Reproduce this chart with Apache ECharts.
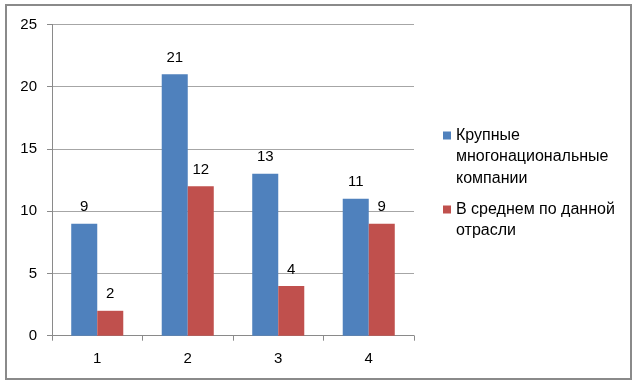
<!DOCTYPE html>
<html>
<head>
<meta charset="utf-8">
<script src="https://cdn.jsdelivr.net/npm/echarts@6/dist/echarts.min.js"></script>
<style>html,body{margin:0;padding:0;background:#fff;}#c{width:638px;height:386px;}</style>
</head>
<body>
<div id="c"></div>
<script>
const categories = ['1', '2', '3', '4'];
const seriesNames = ['Крупные многонациональные компании', 'В среднем по данной отрасли'];
const legendLines = [['Крупные', 'многонациональные', 'компании'], ['В среднем по данной', 'отрасли']];
const largeCompanies = [9, 21, 13, 11];
const industryAverage = [2, 12, 4, 9];
const yTicks = [0, 5, 10, 15, 20, 25];

const FONT = 'Liberation Sans';
const LH = 21.5;
const chart = echarts.init(document.getElementById('c'), null, {renderer: 'canvas'});

// Icon is centred on the text block; prepend empty lines so it sits beside the first line.
function legendFor(i, iconTop) {
  const lines = legendLines[i];
  const n = lines.length;
  const text = '\n'.repeat(n - 1) + lines.join('\n');
  const total = (2 * n - 1) * LH;
  return {
    show: true,
    orient: 'vertical',
    left: 443,
    top: iconTop + 4 - total / 2,
    padding: 0,
    itemWidth: 8,
    itemHeight: 8,
    icon: 'rect',
    data: [seriesNames[i]],
    formatter: function () { return text; },
    textStyle: {fontFamily: FONT, fontSize: 16, color: '#000', lineHeight: LH}
  };
}

chart.setOption({
  animation: false,
  textStyle: {fontFamily: FONT},
  graphic: [{
    type: 'rect', shape: {x: 6, y: 5, width: 625, height: 374},
    style: {fill: 'none', stroke: '#8a8a8a', lineWidth: 2}, z: -1
  }],
  legend: [legendFor(0, 131.5), legendFor(1, 205.5)],
  grid: {left: 52, right: 224, top: 24.4, bottom: 50.3, containLabel: false},
  xAxis: {
    type: 'category',
    data: categories,
    axisLine: {lineStyle: {color: '#8a8a8a', width: 1}},
    axisTick: {show: true, length: 5, lineStyle: {color: '#8a8a8a'}},
    axisLabel: {color: '#000', fontSize: 15, fontFamily: FONT, margin: 16}
  },
  yAxis: {
    type: 'value',
    min: yTicks[0],
    max: yTicks[yTicks.length - 1],
    interval: 5,
    axisLine: {show: true, lineStyle: {color: '#8a8a8a'}},
    axisTick: {show: true, length: 5, lineStyle: {color: '#8a8a8a'}},
    splitLine: {lineStyle: {color: '#a6a6a6', width: 1}},
    axisLabel: {color: '#000', fontSize: 15, fontFamily: FONT, margin: 15}
  },
  series: [
    {
      name: seriesNames[0], type: 'bar', data: largeCompanies,
      barGap: '0%', barCategoryGap: '42.5%',
      itemStyle: {color: '#4F81BD'},
      label: {show: true, position: 'top', distance: 9, color: '#000', fontSize: 15, fontFamily: FONT}
    },
    {
      name: seriesNames[1], type: 'bar', data: industryAverage,
      barGap: '0%', barCategoryGap: '42.5%',
      itemStyle: {color: '#C0504D'},
      label: {show: true, position: 'top', distance: 9, color: '#000', fontSize: 15, fontFamily: FONT}
    }
  ]
});
</script>
</body>
</html>
